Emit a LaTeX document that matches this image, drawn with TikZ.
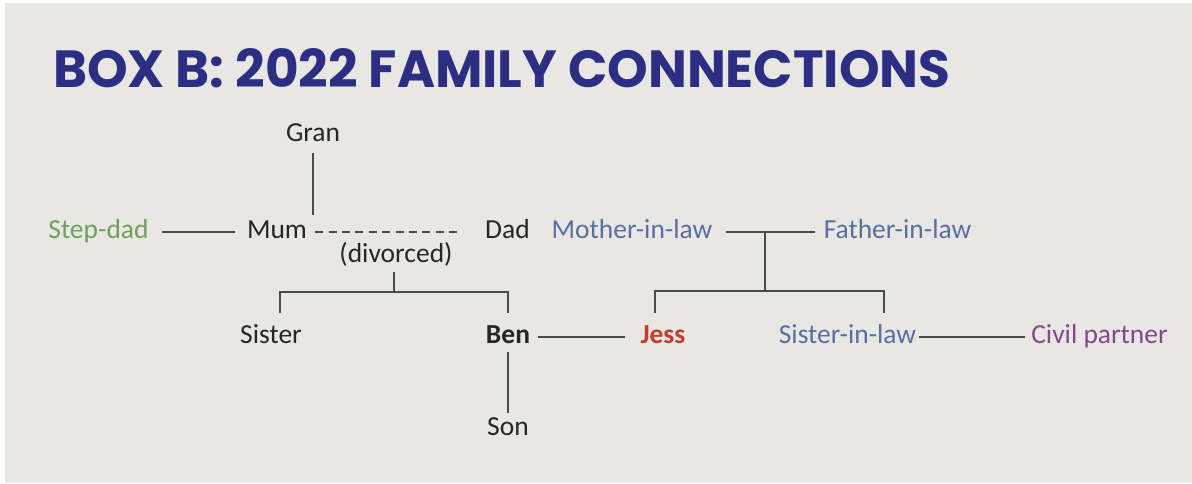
\documentclass[tikz,border=0pt]{standalone}
\usepackage{fontspec}
\setmainfont{Carlito}
\newfontfamily\titlefont{Poppins}
\usetikzlibrary{calc}
\definecolor{bgc}{HTML}{E8E7E3}
\definecolor{titlec}{HTML}{2B2E83}
\definecolor{txtc}{HTML}{262626}
\definecolor{greenc}{HTML}{6F9F5A}
\definecolor{bluec}{HTML}{5A6EA0}
\definecolor{redc}{HTML}{C43C2D}
\definecolor{purplec}{HTML}{84488A}
\definecolor{linec}{HTML}{4A4A4A}
\tikzset{
  person/.style={anchor=base, inner sep=0pt, text height=12pt, text depth=0pt,
    font=\fontsize{27.5}{30}\selectfont, text=txtc},
  ln/.style={draw=linec, line width=1.7pt},
  dashln/.style={draw=linec, line width=1.5pt, dash pattern=on 8pt off 5.4pt},
}
\begin{document}
\begin{tikzpicture}[x=1pt,y=-1pt]
\useasboundingbox (0,0) rectangle (1192,483);
\fill[white] (0,0) rectangle (1192,483);
\fill[bgc] (5,3) rectangle (1192,483);
% title
\node[anchor=base west, inner sep=0pt, text=titlec] (title) at (53,87)
  {\resizebox{897pt}{39pt}{\titlefont\bfseries BOX B: 2022 FAMILY CONNECTIONS}};
% people
\node[person] (gran) at (313,141) {Gran};
\node[person, text=greenc] (stepdad) at (98.5,238) {Step-dad};
\node[person] (mum) at (277,238) {Mum};
\node[person] (dad) at (507.5,238) {Dad};
\node[person, text=bluec] (mil) at (632,238) {Mother-in-law};
\node[person, text=bluec] (fil) at (897.5,238) {Father-in-law};
\node[person] (divorced) at (396,262) {(divorced)};
\node[person] (sister) at (271,343) {Sister};
\node[person, font=\fontsize{27.5}{30}\selectfont\bfseries] (ben) at (508,343) {Ben};
\node[person, text=redc, font=\fontsize{27.5}{30}\selectfont\bfseries] (jess) at (663,343) {Jess};
\node[person, text=bluec] (sil) at (847.5,343) {Sister-in-law};
\node[person, text=purplec] (cp) at (1099.5,343) {Civil partner};
\node[person] (son) at (508,435) {Son};
% junction coordinates
\coordinate (kids) at (394,292);
\coordinate (sisleg) at (280,313);
\coordinate (benleg) at (508,313);
\coordinate (ilc) at (765,232);
\coordinate (ilk) at (765,291);
\coordinate (jessleg) at (655,313);
\coordinate (silleg) at (884,313);
% connectors
\draw[ln, shorten <=13pt, shorten >=12pt] (stepdad.east) -- (mum.west);
\draw[dashln, shorten <=8pt, shorten >=25pt] (mum.east) -- (dad.west);
\draw[ln, shorten <=12pt, shorten >=17pt] (gran.south) -- (gran.south |- mum.east);
\draw[ln, shorten <=10pt] (divorced.south -| kids) -- (kids);
\draw[ln] (sisleg) |- (kids) -| (benleg);
\draw[ln, shorten <=13pt, shorten >=9pt] (mil.east) -- (fil.west);
\draw[ln] (ilc) -- (ilk);
\draw[ln] (jessleg) |- (ilk) -| (silleg);
\draw[ln, shorten <=8pt, shorten >=15pt] (ben.east) -- (jess.west);
\draw[ln, shorten <=9pt, shorten >=10pt] (ben.south) -- (son.north);
\draw[ln, shorten <=3pt, shorten >=6pt] (sil.east) -- (cp.west);
\end{tikzpicture}
\end{document}
